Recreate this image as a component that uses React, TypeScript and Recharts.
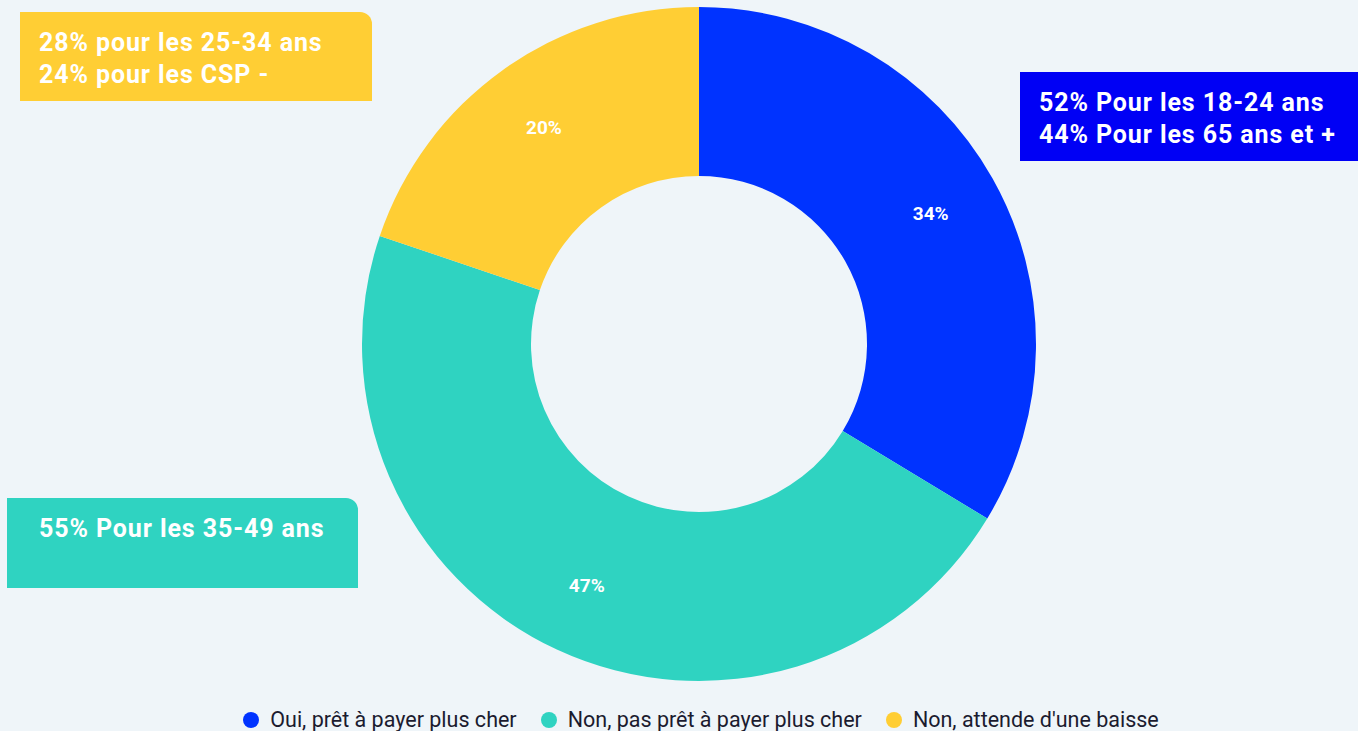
import React from "react";
import { PieChart, Pie, Cell, Legend } from "recharts";

const categories = [
  "Oui, prêt à payer plus cher",
  "Non, pas prêt à payer plus cher",
  "Non, attende d'une baisse",
];
const values = [34, 47, 20];
const colors = ["#0033FF", "#2FD3C1", "#FFCE34"];
const annotations = [
  ["52% Pour les 18-24 ans", "44% Pour les 65 ans et +"],
  ["55% Pour les 35-49 ans"],
  ["28% pour les 25-34 ans", "24% pour les CSP -"],
];

const data = categories.map((name, i) => ({ name, value: values[i] }));
const RAD = Math.PI / 180;

const renderLabel = (p: any) => {
  const { cx, cy, midAngle, innerRadius, outerRadius, value } = p;
  const r = innerRadius + (outerRadius - innerRadius) * 0.58;
  const x = cx + r * Math.cos(-midAngle * RAD);
  const y = cy + r * Math.sin(-midAngle * RAD);
  return (
    <text
      x={x}
      y={y}
      fill="#ffffff"
      textAnchor="middle"
      dominantBaseline="central"
      style={{ fontFamily: "Roboto", fontWeight: 700, fontSize: 19 }}
    >
      {`${value}%`}
    </text>
  );
};

const renderLegend = () => (
  <div
    style={{
      display: "flex",
      justifyContent: "center",
      alignItems: "center",
      fontFamily: "Roboto",
      fontSize: 21.5,
      color: "#1b1b2f",
      paddingLeft: 44,
      boxSizing: "border-box",
      width: 1358,
    }}
  >
    {categories.map((c, i) => (
      <div key={c} style={{ display: "flex", alignItems: "center", margin: "0 12px" }}>
        <span
          style={{
            display: "inline-block",
            width: 16,
            height: 16,
            borderRadius: 8,
            background: colors[i],
            marginRight: 11,
          }}
        />
        <span>{c}</span>
      </div>
    ))}
  </div>
);

const boxStyle: React.CSSProperties = {
  position: "absolute",
  boxSizing: "border-box",
  color: "#ffffff",
  fontFamily: "Roboto",
  fontWeight: 700,
  fontSize: 25,
  letterSpacing: 0.9,
  lineHeight: "32px",
  padding: "15px 0 0 19px",
  whiteSpace: "nowrap",
};

export default function App() {
  return (
    <div
      style={{
        position: "absolute",
        left: 0,
        top: 0,
        width: 1358,
        height: 731,
        background: "#EFF5F9",
        overflow: "hidden",
      }}
    >
      <PieChart width={1358} height={731} style={{ position: "absolute", left: 0, top: 0 }}>
        <Pie
          data={data}
          dataKey="value"
          nameKey="name"
          cx={694}
          cy={339}
          innerRadius={168}
          outerRadius={337}
          startAngle={90}
          endAngle={-270}
          stroke="none"
          labelLine={false}
          label={renderLabel}
          isAnimationActive={false}
        >
          {data.map((d, i) => (
            <Cell key={d.name} fill={colors[i]} />
          ))}
        </Pie>
        <Legend
          content={renderLegend}
          wrapperStyle={{ position: "absolute", left: 0, top: 707, width: 1358 }}
        />
      </PieChart>
      <div
        style={{
          ...boxStyle,
          left: 20,
          top: 12,
          width: 352,
          height: 89,
          background: "#FFCE34",
          borderTopRightRadius: 12,
        }}
      >
        {annotations[2].map((t) => (
          <div key={t}>{t}</div>
        ))}
      </div>
      <div
        style={{
          ...boxStyle,
          left: 1020,
          top: 72,
          width: 338,
          height: 89,
          background: "#0000F5",
        }}
      >
        {annotations[0].map((t) => (
          <div key={t}>{t}</div>
        ))}
      </div>
      <div
        style={{
          ...boxStyle,
          left: 7,
          top: 498,
          width: 351,
          height: 90,
          background: "#2FD3C1",
          borderTopRightRadius: 12,
          paddingLeft: 32,
        }}
      >
        {annotations[1].map((t) => (
          <div key={t}>{t}</div>
        ))}
      </div>
    </div>
  );
}
